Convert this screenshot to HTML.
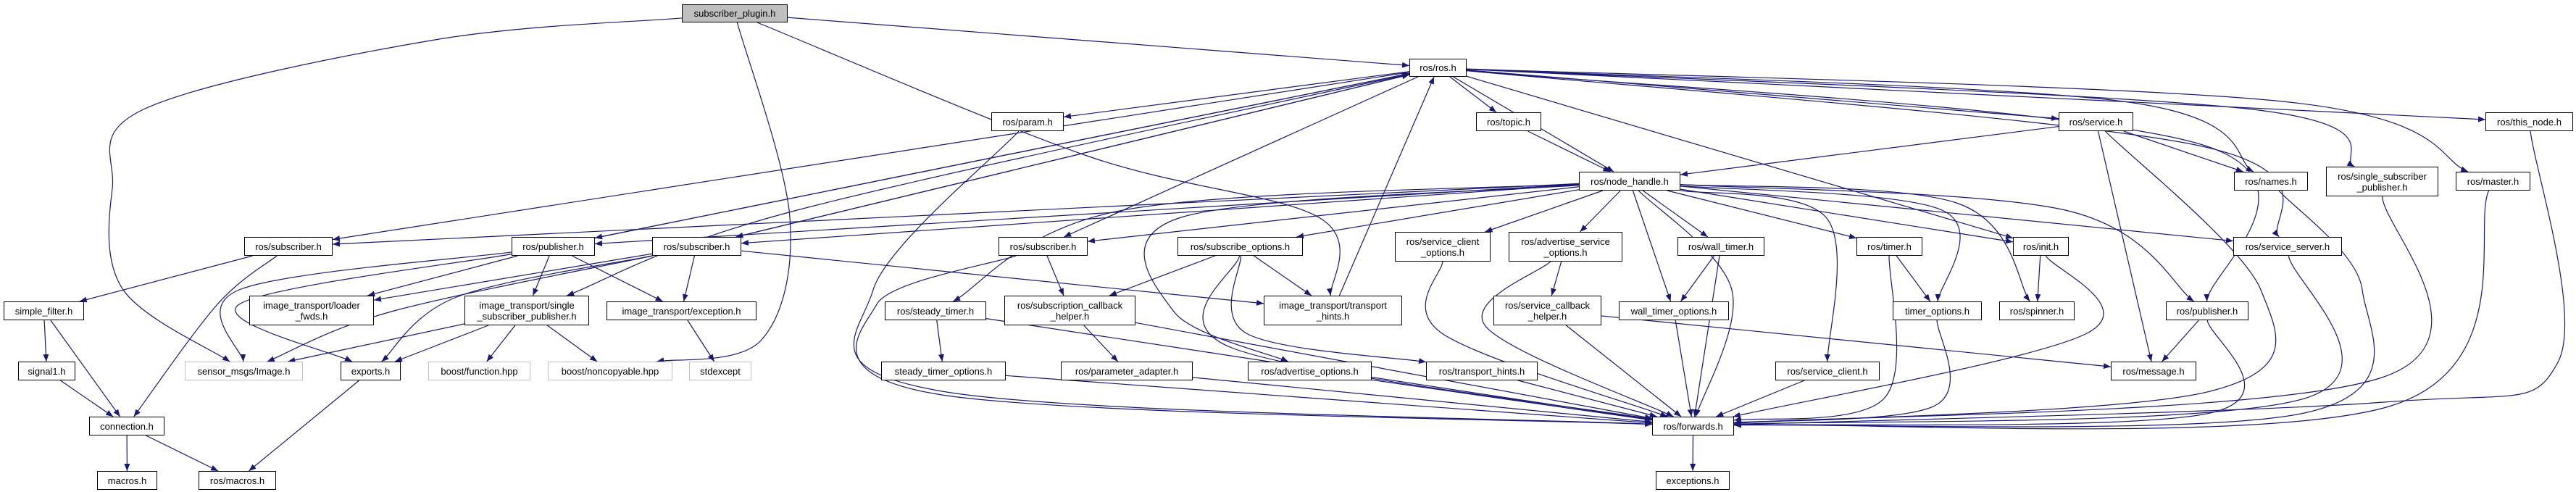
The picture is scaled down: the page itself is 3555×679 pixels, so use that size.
<!DOCTYPE html>
<html><head><meta charset="utf-8">
<style>
html,body{margin:0;padding:0;background:#fff;}
#c{position:relative;width:3555px;height:679px;overflow:hidden;}
.n{position:absolute;box-sizing:border-box;border:1px solid #000;background:#fff;font-family:"Liberation Sans","DejaVu Sans",sans-serif;font-size:13px;color:#000;display:flex;align-items:center;justify-content:center;text-align:center;line-height:15px;white-space:nowrap;z-index:2;}
.g{border-color:#bfbfbf;}
.sp{background:#bfbfbf;}
svg{position:absolute;left:0;top:0;z-index:1;}
</style></head><body>
<div id="c">
<svg id="s" width="3555" height="679"><defs><marker id="a" markerWidth="10" markerHeight="8" refX="10" refY="4" orient="auto" markerUnits="userSpaceOnUse"><path d="M0,0 L10,4 L0,8 z" fill="#191970"/></marker></defs></svg>
<div class="n sp" style="left:941px;top:6px;width:146px;height:25px">subscriber_plugin.h</div>
<div class="n" style="left:1945px;top:81px;width:79px;height:25px">ros/ros.h</div>
<div class="n" style="left:1368px;top:155px;width:100px;height:26px">ros/param.h</div>
<div class="n" style="left:2037px;top:155px;width:90px;height:26px">ros/topic.h</div>
<div class="n" style="left:2841px;top:155px;width:103px;height:26px">ros/service.h</div>
<div class="n" style="left:3430px;top:155px;width:121px;height:26px">ros/this_node.h</div>
<div class="n" style="left:2179px;top:237px;width:140px;height:26px">ros/node_handle.h</div>
<div class="n" style="left:3083px;top:237px;width:102px;height:26px">ros/names.h</div>
<div class="n" style="left:3210px;top:230px;width:155px;height:41px">ros/single_subscriber<br>_publisher.h</div>
<div class="n" style="left:3389px;top:237px;width:103px;height:26px">ros/master.h</div>
<div class="n" style="left:337px;top:327px;width:122px;height:26px">ros/subscriber.h</div>
<div class="n" style="left:706px;top:327px;width:115px;height:26px">ros/publisher.h</div>
<div class="n" style="left:900px;top:327px;width:123px;height:26px">ros/subscriber.h</div>
<div class="n" style="left:1378px;top:327px;width:123px;height:26px">ros/subscriber.h</div>
<div class="n" style="left:1625px;top:327px;width:173px;height:26px">ros/subscribe_options.h</div>
<div class="n" style="left:1925px;top:320px;width:132px;height:41px">ros/service_client<br>_options.h</div>
<div class="n" style="left:2082px;top:320px;width:157px;height:41px">ros/advertise_service<br>_options.h</div>
<div class="n" style="left:2315px;top:327px;width:120px;height:26px">ros/wall_timer.h</div>
<div class="n" style="left:2562px;top:327px;width:91px;height:26px">ros/timer.h</div>
<div class="n" style="left:2778px;top:327px;width:77px;height:26px">ros/init.h</div>
<div class="n" style="left:3082px;top:327px;width:150px;height:26px">ros/service_server.h</div>
<div class="n" style="left:5px;top:416px;width:111px;height:26px">simple_filter.h</div>
<div class="n" style="left:344px;top:408px;width:172px;height:41px">image_transport/loader<br>_fwds.h</div>
<div class="n" style="left:641px;top:408px;width:172px;height:41px">image_transport/single<br>_subscriber_publisher.h</div>
<div class="n" style="left:837px;top:416px;width:207px;height:26px">image_transport/exception.h</div>
<div class="n" style="left:1221px;top:416px;width:140px;height:26px">ros/steady_timer.h</div>
<div class="n" style="left:1386px;top:408px;width:181px;height:41px">ros/subscription_callback<br>_helper.h</div>
<div class="n" style="left:1744px;top:408px;width:191px;height:41px">image_transport/transport<br>_hints.h</div>
<div class="n" style="left:2061px;top:408px;width:149px;height:41px">ros/service_callback<br>_helper.h</div>
<div class="n" style="left:2234px;top:416px;width:152px;height:26px">wall_timer_options.h</div>
<div class="n" style="left:2612px;top:416px;width:123px;height:26px">timer_options.h</div>
<div class="n" style="left:2759px;top:416px;width:104px;height:26px">ros/spinner.h</div>
<div class="n" style="left:2989px;top:416px;width:114px;height:26px">ros/publisher.h</div>
<div class="n" style="left:25px;top:499px;width:79px;height:26px">signal1.h</div>
<div class="n g" style="left:255px;top:499px;width:163px;height:26px">sensor_msgs/Image.h</div>
<div class="n" style="left:470px;top:499px;width:83px;height:26px">exports.h</div>
<div class="n g" style="left:591px;top:499px;width:141px;height:26px">boost/function.hpp</div>
<div class="n g" style="left:756px;top:499px;width:172px;height:26px">boost/noncopyable.hpp</div>
<div class="n g" style="left:951px;top:499px;width:86px;height:26px">stdexcept</div>
<div class="n" style="left:1216px;top:499px;width:172px;height:26px">steady_timer_options.h</div>
<div class="n" style="left:1464px;top:499px;width:182px;height:26px">ros/parameter_adapter.h</div>
<div class="n" style="left:1722px;top:499px;width:171px;height:26px">ros/advertise_options.h</div>
<div class="n" style="left:1968px;top:499px;width:154px;height:26px">ros/transport_hints.h</div>
<div class="n" style="left:2450px;top:499px;width:144px;height:26px">ros/service_client.h</div>
<div class="n" style="left:2913px;top:499px;width:118px;height:26px">ros/message.h</div>
<div class="n" style="left:123px;top:575px;width:104px;height:26px">connection.h</div>
<div class="n" style="left:2280px;top:575px;width:113px;height:26px">ros/forwards.h</div>
<div class="n" style="left:134px;top:650px;width:83px;height:26px">macros.h</div>
<div class="n" style="left:274px;top:650px;width:107px;height:26px">ros/macros.h</div>
<div class="n" style="left:2285px;top:650px;width:102px;height:26px">exceptions.h</div>
</div>
<script>
var N={SP:[941,6,146,25],ROS:[1945,81,79,25],PAR:[1368,155,100,26],TOP:[2037,155,90,26],SRV:[2841,155,103,26],THN:[3430,155,121,26],NH:[2179,237,140,26],NAM:[3083,237,102,26],SSP:[3210,230,155,41],MAS:[3389,237,103,26],SA:[337,327,122,26],PI:[706,327,115,26],SB:[900,327,123,26],SC:[1378,327,123,26],SO:[1625,327,173,26],SCO:[1925,320,132,41],ASO:[2082,320,157,41],WT:[2315,327,120,26],TI:[2562,327,91,26],IN:[2778,327,77,26],SS:[3082,327,150,26],SF:[5,416,111,26],LF:[344,408,172,41],ISP:[641,408,172,41],EX:[837,416,207,26],ST:[1221,416,140,26],SCH:[1386,408,181,41],TH:[1744,408,191,41],SVCH:[2061,408,149,41],WTO:[2234,416,152,26],TO:[2612,416,123,26],SPN:[2759,416,104,26],PD:[2989,416,114,26],SIG:[25,499,79,26],IMG:[255,499,163,26],EXP:[470,499,83,26],BF:[591,499,141,26],BN:[756,499,172,26],STD:[951,499,86,26],STO:[1216,499,172,26],PA:[1464,499,182,26],AO:[1722,499,171,26],RTH:[1968,499,154,26],SCL:[2450,499,144,26],MSG:[2913,499,118,26],CON:[123,575,104,26],FW:[2280,575,113,26],MAC:[134,650,83,26],RMAC:[274,650,107,26],EXC:[2285,650,102,26]};
var E=[["SP","ROS"],["SP","IMG",[[600,55],[200,150],[155,260],[170,400]]],["SP","BN",[[1090,300],[1050,470]]],["SP","TH",[[1500,215],[1820,300]]],
["ROS","SA"],["ROS","PI"],["PI","ROS"],["ROS","SB"],["SB","ROS"],["ROS","ISP",[[1100,290]]],["TH","ROS"],
["NH","SA"],["NH","PI"],["NH","SB"],["SB","TH"],
["SA","SF"],["SA","CON",[[300,420]]],["SF","SIG"],["SF","CON"],["SIG","CON"],["CON","MAC"],["CON","RMAC"],["EXP","RMAC"],
["PI","LF"],["PI","ISP"],["PI","EX"],["PI","IMG",[[330,400]]],["PI","EXP",[[330,420]]],
["SB","LF"],["SB","IMG",[[540,430]]],["SB","EXP",[[630,410]]],["SB","EX"],
["ISP","IMG"],["ISP","EXP"],["ISP","BF"],["ISP","BN"],["EX","STD"],
["ROS","PAR"],["ROS","TOP"],["ROS","NH"],["ROS","SC"],["ROS","SRV"],["ROS","NAM",[[2930,140]]],["ROS","SSP",[[3100,150]]],["ROS","MAS",[[3150,140]]],["ROS","THN"],["ROS","IN"],["ROS","SS",[[3030,200]]],["ROS","PD",[[3040,200]]],
["PAR","FW",[[1205,400],[1300,540]]],["TOP","NH"],["SRV","NH"],["SRV","NAM"],["SRV","MSG"],["SRV","FW",[[3120,400],[3050,540]]],
["NH","SC"],["NH","SO"],["NH","ST",[[1550,290]]],["NH","SCO"],["NH","ASO"],["NH","WT"],["NH","WTO"],["NH","FW",[[2390,400]]],["NH","AO",[[1630,300],[1620,430]]],["NH","TI"],["NH","TO",[[2680,290]]],["NH","IN"],["NH","SPN",[[2700,280]]],["NH","PD",[[2850,290]]],["NH","SS"],["NH","SCL",[[2520,300]]],
["SC","SCH"],["SC","FW",[[1210,420],[1300,545]]],["SO","SCH"],["SO","TH"],["SO","RTH",[[1720,460]]],["SO","FW",[[1700,480]]],
["ST","STO"],["ST","FW"],["SCH","PA"],["SCH","FW"],["SCO","FW",[[1990,460]]],["ASO","SVCH"],["ASO","FW",[[2050,450]]],["SVCH","FW"],["SVCH","MSG"],
["WT","WTO"],["WT","FW"],["WTO","FW"],["STO","FW"],["PA","FW"],["AO","FW"],["RTH","FW"],["FW","EXC"],
["TI","TO"],["TI","FW",[[2600,550]]],["TO","FW",[[2670,560]]],["IN","SPN"],["IN","FW",[[2880,460]]],["PD","MSG"],["PD","FW",[[3050,570]]],["SCL","FW"],["SS","FW",[[3180,550]]],["NAM","FW",[[3260,400],[3180,570]]],["SSP","FW",[[3290,520]]],["MAS","FW",[[3300,560]]],["THN","FW",[[3530,500],[3290,555]]]];
function clip(b,px,py){var cx=b[0]+b[2]/2,cy=b[1]+b[3]/2,dx=px-cx,dy=py-cy;if(!dx&&!dy)return[cx,cy];var sx=dx?(b[2]/2)/Math.abs(dx):1e9,sy=dy?(b[3]/2)/Math.abs(dy):1e9,s=Math.min(sx,sy);return[cx+dx*s,cy+dy*s];}
var s=document.getElementById('s'),ns="http://www.w3.org/2000/svg";
E.forEach(function(e){var a=N[e[0]],b=N[e[1]],w=e[2]||[];var ac=[a[0]+a[2]/2,a[1]+a[3]/2],bc=[b[0]+b[2]/2,b[1]+b[3]/2];
var f=w.length?w[0]:bc,l=w.length?w[w.length-1]:ac;var p0=clip(a,f[0],f[1]),p1=clip(b,l[0],l[1]);
var P=[p0].concat(w).concat([p1]);var d="M"+P[0][0]+","+P[0][1];
if(P.length==2)d+=" L"+p1[0]+","+p1[1];else{for(var i=0;i<P.length-1;i++){var q0=P[i-1]||P[i],q1=P[i],q2=P[i+1],q3=P[i+2]||P[i+1];
var c1=[q1[0]+(q2[0]-q0[0])/6,q1[1]+(q2[1]-q0[1])/6],c2=[q2[0]-(q3[0]-q1[0])/6,q2[1]-(q3[1]-q1[1])/6];
d+=" C"+c1[0]+","+c1[1]+" "+c2[0]+","+c2[1]+" "+q2[0]+","+q2[1];}}
var p=document.createElementNS(ns,"path");p.setAttribute("d",d);p.setAttribute("fill","none");p.setAttribute("stroke","#191970");p.setAttribute("stroke-width","1.2");p.setAttribute("marker-end","url(#a)");s.appendChild(p);});
</script>
</body></html>
